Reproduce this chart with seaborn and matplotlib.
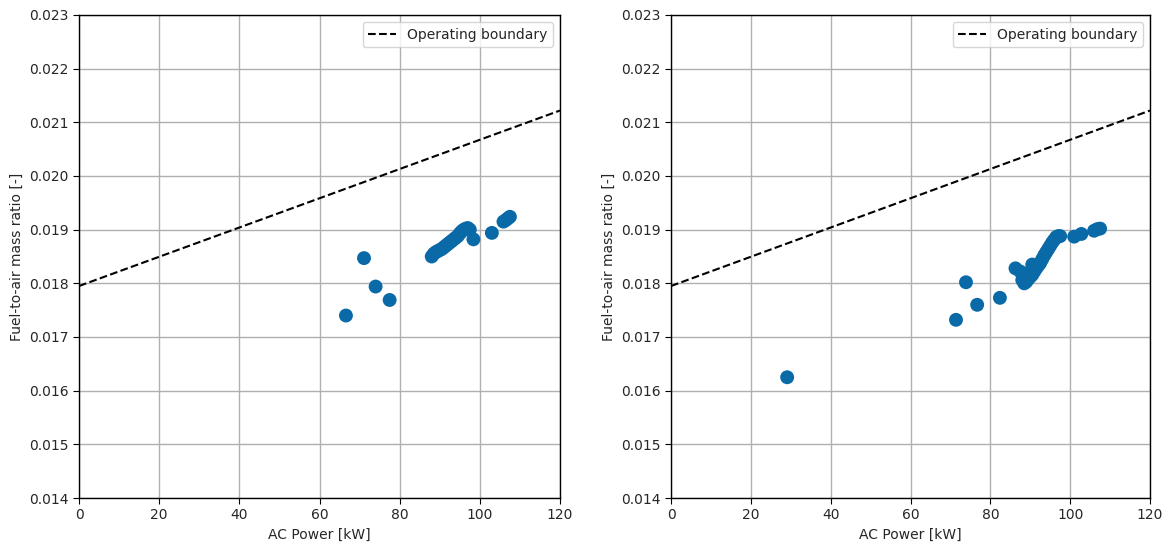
import numpy as np
import pandas as pd
import matplotlib
matplotlib.use("Agg")
import matplotlib.pyplot as plt
import seaborn as sns

# Operating boundary line endpoints
boundary_power = [0, 120]
boundary_far = [0.01795, 0.02122]

# Left panel data
left_power = [66.6, 71.1, 74.0, 77.5,
              88.0, 88.5, 89.0, 89.5, 90.0, 90.5, 91.0, 91.5, 92.0, 92.5, 93.0,
              93.5, 94.0, 94.5, 95.0, 95.5, 96.0, 96.5, 97.0, 97.5, 98.4,
              103.0, 105.9, 106.5, 107.0, 107.5]
left_far = [0.01740, 0.01847, 0.01794, 0.01769,
            0.01850, 0.01855, 0.01858, 0.01860, 0.01862, 0.01864, 0.01867, 0.01870,
            0.01873, 0.01876, 0.01879, 0.01882, 0.01885, 0.01888, 0.01893, 0.01897,
            0.01900, 0.01902, 0.01903, 0.01900, 0.01882,
            0.01894, 0.01915, 0.01918, 0.01921, 0.01924]

# Right panel data
right_power = [29.1, 71.4, 73.9, 76.7, 82.4, 86.3,
               87.5, 88.0, 88.5, 89.0, 89.0, 89.5, 90.0, 90.5, 90.5, 91.0, 91.0,
               91.5, 92.0, 92.5, 93.0, 93.5, 94.0, 94.5, 95.0, 95.5, 96.0, 96.5,
               97.0, 97.5, 101.0, 102.8, 106.0, 106.8, 107.5]
right_far = [0.01625, 0.01732, 0.01802, 0.01760, 0.01773, 0.01828,
             0.01822, 0.01806, 0.01800, 0.01803, 0.01818, 0.01808, 0.01812, 0.01816,
             0.01835, 0.01822, 0.01830, 0.01828, 0.01833, 0.01838, 0.01845, 0.01852,
             0.01858, 0.01864, 0.01870, 0.01876, 0.01881, 0.01886, 0.01888, 0.01888,
             0.01887, 0.01892, 0.01898, 0.01901, 0.01902]

xticks = [0, 20, 40, 60, 80, 100, 120]
yticks = [0.014, 0.015, 0.016, 0.017, 0.018, 0.019, 0.020, 0.021, 0.022, 0.023]

sns.set_style("ticks")
plt.rcParams['font.family'] = ['DejaVu Sans']

fig = plt.figure(figsize=(11.68, 5.43), dpi=100)
ax1 = fig.add_axes([79/1168, 1-498/543, (560-79)/1168, (498-15)/543])
ax2 = fig.add_axes([671/1168, 1-498/543, (1150-671)/1168, (498-15)/543])

color = "#0a6aa8"
bdf = pd.DataFrame({"p": boundary_power, "f": boundary_far})

for ax, px, fy in [(ax1, left_power, left_far), (ax2, right_power, right_far)]:
    df = pd.DataFrame({"p": px, "f": fy})
    sns.lineplot(data=bdf, x="p", y="f", ax=ax, color="black", linestyle="--",
                 linewidth=1.5, label="Operating boundary")
    sns.scatterplot(data=df, x="p", y="f", ax=ax, color=color, s=100,
                    edgecolor="none", zorder=3)
    ax.set_xlim(0, 120)
    ax.set_ylim(0.014, 0.023)
    ax.set_xticks(xticks)
    ax.set_yticks(yticks)
    ax.set_yticklabels([f"{v:.3f}" for v in yticks])
    ax.grid(True, color="#b0b0b0", linewidth=1.0)
    ax.set_axisbelow(True)
    ax.set_xlabel("AC Power [kW]", fontsize=10)
    ax.set_ylabel("Fuel-to-air mass ratio [-]", fontsize=10)
    ax.tick_params(labelsize=10, direction="out", length=4, color="black")
    for s in ax.spines.values():
        s.set_visible(True)
        s.set_color("black")
        s.set_linewidth(1.0)
    ax.legend(loc="upper right", fontsize=10, framealpha=0.8, edgecolor="#cccccc")

fig.savefig("out.png", dpi=100)
